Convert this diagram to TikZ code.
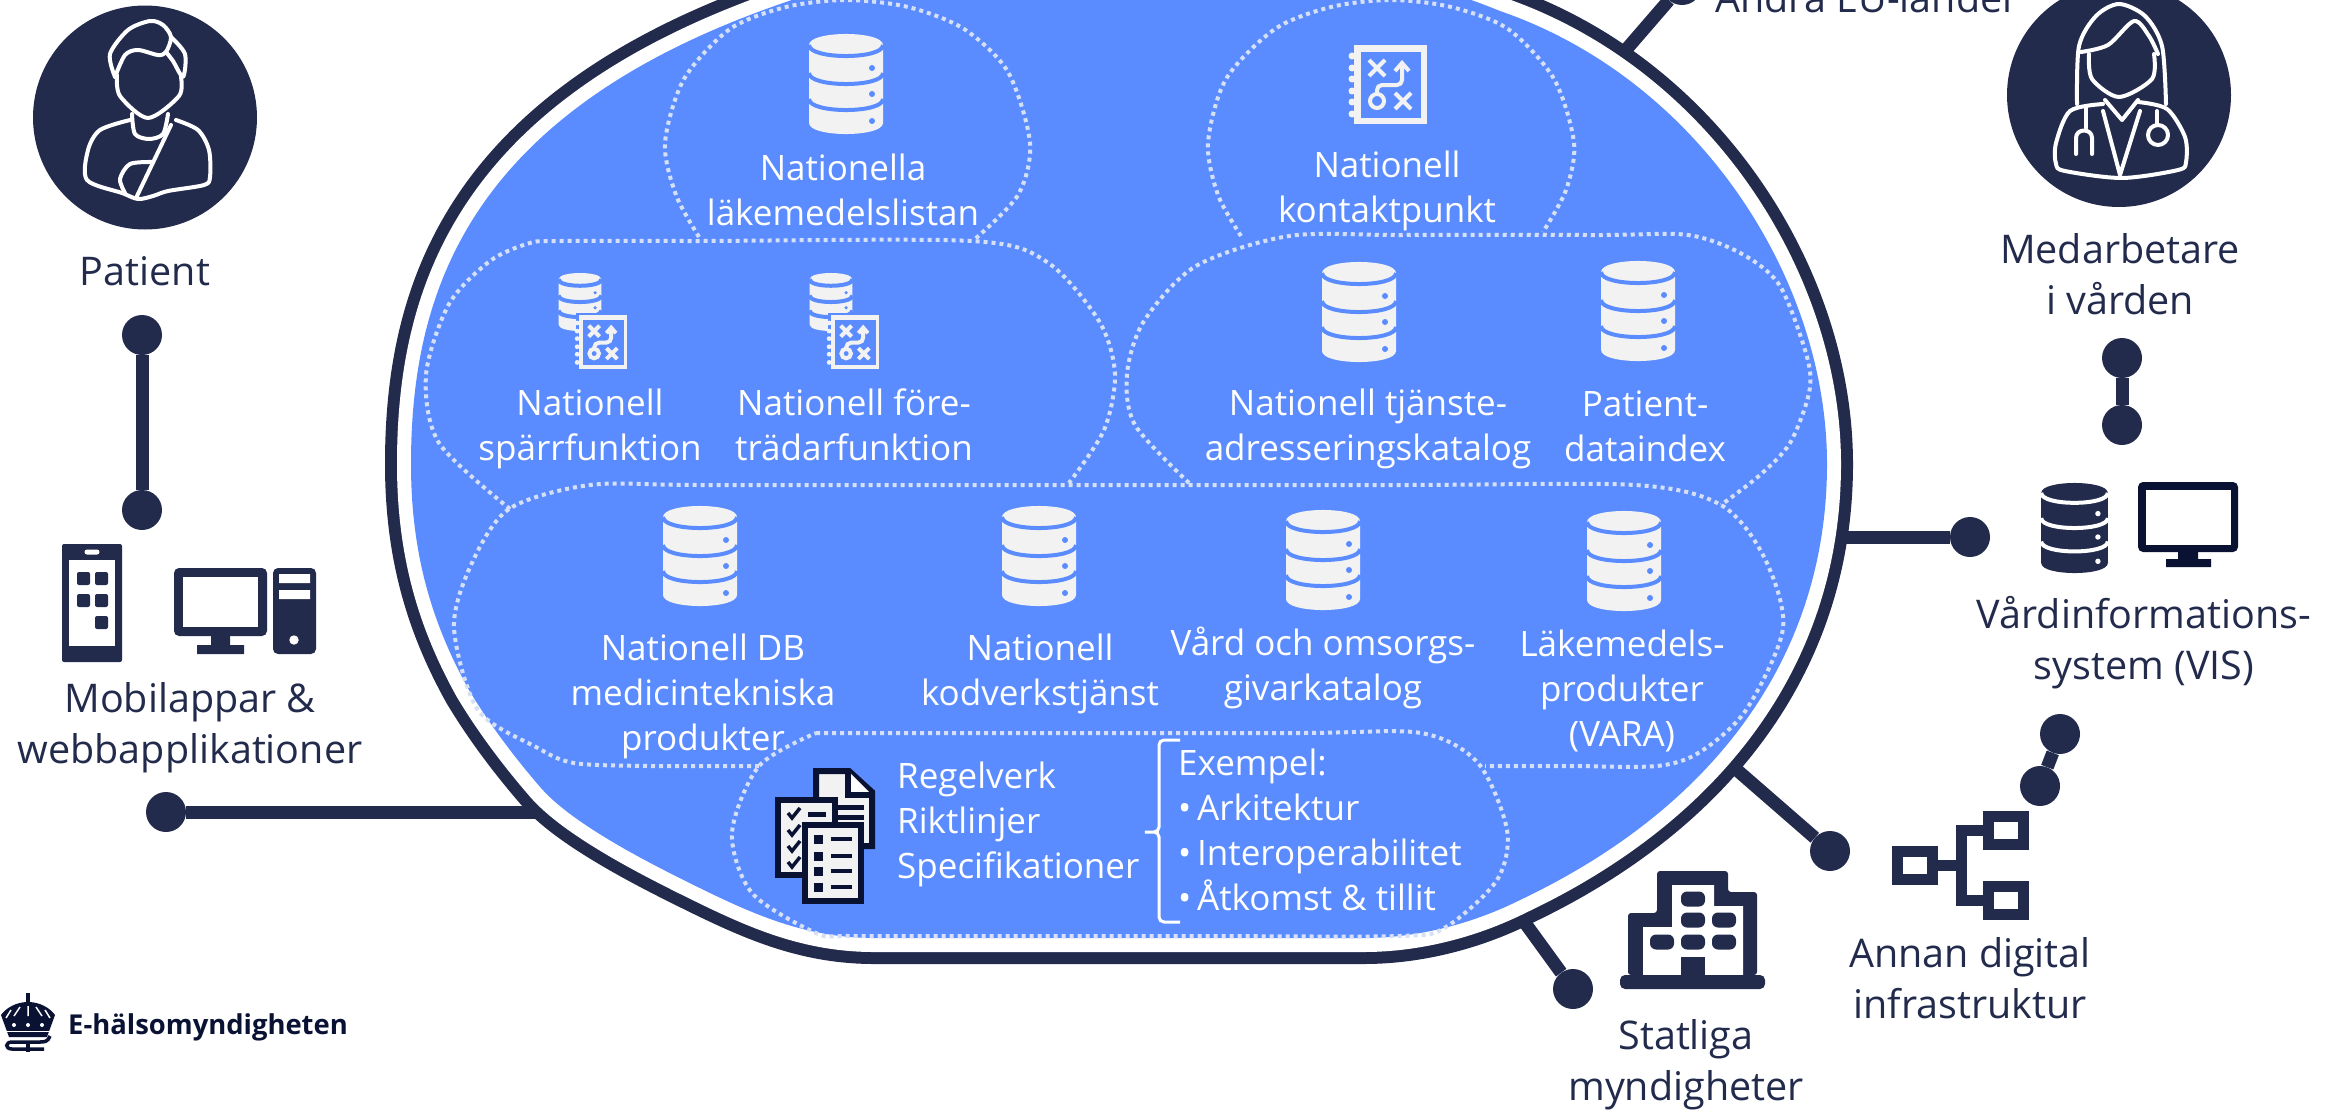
\documentclass[tikz,border=0pt]{standalone}
\usepackage{fontspec}
\setmainfont{Open Sans}
\definecolor{ehmdark}{HTML}{232B4D}
\definecolor{ehmnavy}{HTML}{0A1233}
\definecolor{ehmblue}{HTML}{5B8CFF}
\definecolor{ehmgray}{HTML}{F2F2F2}
\definecolor{ehmdots}{HTML}{D5E0F5}
\newcommand{\blobpath}{(411,464) .. controls (411,290) and (470,110) .. (786,2)
	.. controls (900,-37) and (1050,-60) .. (1118,-60)
	.. controls (1250,-60) and (1400,-30) .. (1500,11)
	.. controls (1700,80) and (1827,280) .. (1827,464)
	.. controls (1827,660) and (1710,810) .. (1520,900)
	.. controls (1470,925) and (1415,938) .. (1364,938)
	-- (874,938) .. controls (810,938) and (760,917) .. (710,893)
	.. controls (665,871) and (576,828) .. (541,788)
	.. controls (515,758) and (490,725) .. (469,690)
	.. controls (430,620) and (411,550) .. (411,464) -- cycle}
\tikzset{
	dot/.style={circle,fill=ehmdark,minimum size=40pt,inner sep=0pt},
	link/.style={draw=ehmdark,line width=13pt},
	outerlabel/.style={text=ehmdark,align=center,font=\fontsize{39.5}{51}\selectfont,inner sep=0pt},
	innerlabel/.style={text=white,align=center,font=\fontsize{35}{45}\selectfont,inner sep=0pt},
	iconline/.style={draw=white,line width=4pt,line join=round,line cap=round},
	lobe/.style={draw=ehmdots,line width=4pt,dash pattern=on 4pt off 4pt},
	hbox/.style={draw=ehmdark,line width=11pt,fill=white,minimum width=35pt,minimum height=28pt,inner sep=0pt},
	pics/dbicon/.style 2 args={code={
		\fill[#1] (-37,-39) .. controls (-37,-53.7) and (37,-53.7) .. (37,-39) -- (37,39)
			.. controls (37,53.7) and (-37,53.7) .. (-37,39) -- cycle;
		\foreach \c/\d in {-39/-16,-11/10,15/37} {
			\draw[#2,line width=4pt] (-37,\c) .. controls (-37,\c+14.7) and (37,\c+14.7) .. (37,\c);
			\fill[#2] (26,\d) circle (3);
		}
	}},
	pics/mapicon/.style={code={
		\draw[ehmblue,line width=3pt,fill=ehmgray] (-38,-41) rectangle (38,41);
		\fill[ehmgray] (-36,-39) rectangle (36,39);
		\foreach \y in {-28,-16,-5,7,18,30}
			\fill[ehmgray] (-38,\y) circle (3.5);
		\fill[ehmblue] (-29,-32) rectangle (31,34);
		\draw[ehmgray,line width=4pt] (-21,-24) -- (-5,-8) (-21,-8) -- (-5,-24);
		\draw[ehmgray,line width=4pt] (5,9) -- (21,25) (5,25) -- (21,9);
		\draw[ehmgray,line width=4pt] (-13,17) circle (7);
		\draw[ehmgray,line width=4pt,rounded corners=5pt] (-13,10) -- (-13,1) -- (12,1) -- (12,-21);
		\draw[ehmgray,line width=4pt] (5,-13) -- (12,-21) -- (19,-13);
	}}
}

\begin{document}
\begin{tikzpicture}[x=1pt,y=-1pt]
	\clip (0,0) rectangle (2344,1111);

	\coordinate (ringleft) at (570,812);
	\coordinate (ringright) at (1820,537);
	\coordinate (ringstat) at (1512,905);
	\coordinate (ringannan) at (1722,757);
	\coordinate (ringeu) at (1612,66);
	\node[dot] (dotleft) at (166,812) {};
	\node[dot] (dotright) at (1970,537) {};
	\node[dot] (dotstat) at (1573,989) {};
	\node[dot] (dotannan) at (1830,851) {};
	\node[dot] (doteu) at (1682,-15) {};
	\draw[link] (dotleft) -- (ringleft);
	\draw[link] (dotright) -- (ringright);
	\draw[link] (dotstat) -- (ringstat);
	\draw[link] (dotannan) -- (ringannan);
	\draw[link] (doteu) -- (ringeu);

	\draw[ehmdark,line width=52pt] \blobpath;
	\draw[white,line width=28pt] \blobpath;
	\fill[ehmblue] \blobpath;

	\draw[lobe] plot[smooth] coordinates {(699,237) (676,195) (665,143) (684,79) (730,29) (786,7) (846,0) (908,7) (964,29) (1008,72) (1030,143) (1018,195) (975,239)};
	\draw[lobe] plot[smooth] coordinates {(1241,236) (1218,195) (1208,143) (1226,79) (1275,29) (1331,7) (1391,0) (1451,7) (1508,29) (1554,79) (1574,143) (1566,190) (1543,232)};
	\draw[lobe] plot[smooth] coordinates {(510,509) (439,443) (426,375) (449,304) (490,261) (530,243) (561,241) (700,241) (972,241) (1047,262) (1099,321) (1115,374) (1104,430) (1069,483)};
	\draw[lobe] plot[smooth] coordinates {(1189,483) (1135,425) (1127,374) (1144,321) (1196,266) (1289,236) (1400,235) (1600,235) (1688,235) (1742,254) (1780,286) (1807,357) (1809,393) (1790,443) (1760,475) (1721,505)};
	\draw[lobe] plot[smooth] coordinates {(759,766) (650,766) (574,763) (536,747) (478,710) (454,628) (471,565) (509,509) (590,485) (700,485) (1000,485) (1400,485) (1635,485) (1721,505) (1764,557) (1783,628) (1746,710) (1700,752) (1657,766) (1570,766) (1485,766)};
	\draw[lobe] plot[smooth] coordinates {(816,733) (1000,733) (1300,733) (1421,733) (1478,763) (1507,830) (1497,880) (1446,927) (1400,936) (1200,936) (1000,936) (850,936) (816,933) (752,893) (732,833) (759,766) (816,733)};

	\pic at (846,84) {dbicon={ehmgray}{ehmblue}};
	\pic at (1359,312) {dbicon={ehmgray}{ehmblue}};
	\pic at (1638,311) {dbicon={ehmgray}{ehmblue}};
	\pic at (700,556) {dbicon={ehmgray}{ehmblue}};
	\pic at (1039,556) {dbicon={ehmgray}{ehmblue}};
	\pic at (1323,560) {dbicon={ehmgray}{ehmblue}};
	\pic at (1624,561) {dbicon={ehmgray}{ehmblue}};
	\pic[scale=0.58] at (580,302) {dbicon={ehmgray}{ehmblue}};
	\pic[scale=0.58] at (831,302) {dbicon={ehmgray}{ehmblue}};
	\pic at (1390,84) {mapicon};
	\pic[scale=0.68] at (603,342) {mapicon};
	\pic[scale=0.68] at (855,342) {mapicon};
	\pic[scale=0.9] at (2074.5,528) {dbicon={ehmdark}{white}};

	\node[innerlabel] (listan) at (843,190) {Nationella\\läkemedelslistan};
	\node[innerlabel] (kontakt) at (1387,191) {Nationell\\kontaktpunkt};
	\node[innerlabel] (sparr) at (590,429) {Nationell\\spärrfunktion};
	\node[innerlabel] (fore) at (854,425) {Nationell före-\\trädarfunktion};
	\node[innerlabel] (tjanst) at (1368,429) {Nationell tjänste-\\adresseringskatalog};
	\node[innerlabel] (index) at (1645,426) {Patient-\\dataindex};
	\node[innerlabel] (medtek) at (703,696) {Nationell DB\\medicintekniska\\produkter};
	\node[innerlabel] (kodverk) at (1040,674) {Nationell\\kodverkstjänst};
	\node[innerlabel] (vard) at (1323,668) {Vård och omsorgs-\\givarkatalog};
	\node[innerlabel] (vara) at (1622,691) {Läkemedels-\\produkter\\(VARA)};
	\node[innerlabel,align=left,anchor=west] (regler) at (897,824) {Regelverk\\Riktlinjer\\Specifikationer};
	\node[innerlabel,align=left,anchor=west] (exempel) at (1178,830) {Exempel:\\•\,Arkitektur\\•\,Interoperabilitet\\•\,Åtkomst \& tillit};
	\draw[white,line width=3pt,rounded corners=5pt] (1180,740) -- (1159,740) -- (1159,832) -- (1142,832) -- (1159,832) -- (1159,922) -- (1180,922);

	% dokument
	\draw[ehmnavy,line width=6pt,fill=ehmgray,line join=miter] (816,771) -- (849,771) -- (872,792) -- (872,846) -- (816,846) -- cycle;
	\draw[ehmnavy,line width=6pt,fill=white] (848,771) -- (848,795) -- (872,795);
	\draw[ehmnavy,line width=5pt] (838,807) -- (864,807) (838,817) -- (864,817) (838,826) -- (864,826);
	\draw[ehmnavy,line width=6pt,fill=ehmgray] (778,800) rectangle (835,875);
	\foreach \y in {813,830,846,862}
		\draw[ehmnavy,line width=3.5pt] (788,\y) -- (792,\y+5) -- (800,\y-5);
	\draw[ehmnavy,line width=5pt] (808,814) -- (826,814);
	\draw[ehmnavy,line width=6pt,fill=ehmgray] (805,825) rectangle (861,901);
	\foreach \y in {839,856,871,887} {
		\fill[ehmnavy] (814,\y-4.5) rectangle (823,\y+4.5);
		\draw[ehmnavy,line width=4.5pt] (831,\y) -- (852,\y);
	}

	% patient
	\fill[ehmdark] (145,117.5) circle (112);
	\draw[iconline] plot[smooth] coordinates {(115,77) (110,54) (128,30) (150,21) (163,25) (171,37) (166,52) (158,55) (138,50) (125,55) (115,77)};
	\draw[iconline] plot[smooth] coordinates {(171,37) (185,54) (183,77) (173,61) (166,52)};
	\draw[iconline] plot[smooth] coordinates {(117,75) (120,96) (148,118) (179,96) (181,77)};
	\draw[iconline] plot[smooth] coordinates {(132,114) (135,134) (149,139) (163,134) (168,114)};
	\draw[iconline] plot[smooth] coordinates {(130,120) (100,130) (88,150) (87,180) (122,193) (138,199) (153,196) (168,191) (204,185) (210,177) (209,150) (198,130) (176,120)};
	\draw[iconline] (171,125) -- (137,196);
	\draw[iconline] plot[smooth] coordinates {(153,162) (130,164) (120,179) (125,193)};
	\node[outerlabel] (patient) at (145,271) {Patient};
	\node[dot] (dotpat) at (142,335) {};
	\node[dot] (dotapp) at (142,510) {};
	\draw[link] (dotpat) -- (dotapp);

	% mobil och dator
	\fill[ehmdark,rounded corners=2pt] (62,544) rectangle (122,662);
	\fill[white] (69,560) rectangle (115,646);
	\fill[white,rounded corners=2.5pt] (84.5,549.5) rectangle (99.5,554.5);
	\foreach \x/\y in {77/572,95/572,77/594,95/594,95/616}
		\fill[ehmdark,rounded corners=2pt] (\x,\y) rectangle ++(13,13);
	\fill[ehmdark,rounded corners=5pt] (174,568) rectangle (267,636);
	\fill[white] (183,577) rectangle (258,627);
	\fill[ehmdark] (211,634) rectangle (230,646) (197,645) rectangle (244,654);
	\fill[ehmdark,rounded corners=5pt] (273,568) rectangle (316,654);
	\fill[white] (279,574) rectangle (310,583) (279,590) rectangle (310,599);
	\fill[white] (294,640) circle (4.7);
	\node[outerlabel] (appar) at (190,728) {Mobilappar \&\\webbapplikationer};

	% medarbetare
	\fill[ehmdark] (2119,95) circle (112);
	\draw[iconline] plot[smooth] coordinates {(2077,104) (2079,46) (2096,16) (2119,4) (2145,16) (2162,46) (2166,104)};
	\draw[iconline] plot[smooth] coordinates {(2081,52) (2108,45) (2134,21) (2149,36) (2158,54)};
	\draw[iconline] plot[smooth] coordinates {(2089,54) (2092,79) (2119,97) (2152,79) (2154,54)};
	\draw[iconline] plot[smooth] coordinates {(2103,104) (2070,111) (2056,143) (2056,164) (2065,171) (2122,178) (2178,170) (2186,162) (2185,137) (2167,109) (2138,102)};
	\draw[iconline] (2105,100) -- (2122,120) -- (2138,100);
	\draw[iconline] (2103,111) -- (2120,175) -- (2140,111);
	\draw[iconline] (2086,107) -- (2086,128);
	\draw[iconline] (2076,154) -- (2076,138) .. controls (2076,128) and (2092,128) .. (2092,138) -- (2092,154);
	\draw[iconline] (2157,111) -- (2157,125);
	\draw[iconline] (2158,135) circle (10);
	\node[outerlabel] (medarb) at (2120,274) {Medarbetare\\i vården};
	\node[dot] (dotmed) at (2122,358) {};
	\node[dot] (dotvis) at (2122,425) {};
	\draw[link] (dotmed) -- (dotvis);

	% vis
	\fill[ehmnavy,rounded corners=5pt] (2138,482) rectangle (2238,552);
	\fill[white] (2146,490) rectangle (2231,545);
	\fill[ehmnavy] (2178,550) rectangle (2198,561) (2166,559) rectangle (2211,567);
	\node[outerlabel] (vis) at (2144,643) {Vårdinformations-\\system (VIS)};
	\node[dot] (dotvisb) at (2060,734) {};
	\node[dot] (dotinfra) at (2040,786) {};
	\draw[link] (dotvisb) -- (dotinfra);

	% annan infrastruktur
	\node[hbox] (hroot) at (1915,865.5) {};
	\node[hbox] (htop) at (2006,830.5) {};
	\node[hbox] (hbottom) at (2006,900) {};
	\draw[ehmdark,line width=11pt] (hroot.east) -- ++(23,0) |- (htop.west);
	\draw[ehmdark,line width=11pt] (hroot.east) -- ++(23,0) |- (hbottom.west);
	\node[outerlabel] (annan) at (1970,978) {Annan digital\\infrastruktur};

	% statliga
	\fill[ehmdark,rounded corners=3pt] (1628,975) -- (1628,913) -- (1657,913) -- (1657,871) -- (1728,871) -- (1728,892) -- (1757,892) -- (1757,975) -- cycle;
	\fill[white] (1643,975) -- (1643,927) -- (1672,927) -- (1672,885) -- (1714,885) -- (1714,906) -- (1743,906) -- (1743,975) -- cycle;
	\foreach \x/\y in {1693/899,1693/920,1724/920,1662/942,1693/942,1724/942}
		\fill[ehmdark,rounded corners=6pt] (\x-12,\y-7.5) rectangle (\x+12,\y+7.5);
	\fill[ehmdark] (1681,957) rectangle (1705,975);
	\fill[ehmdark,rounded corners=5pt] (1620,975) rectangle (1765,989);
	\node[outerlabel] (statlig) at (1686,1065) {Statliga\\myndigheter};

	\node[outerlabel,anchor=base] (andra) at (1867,12) {Andra EU-länder};

	% logo
	\fill[ehmnavy] (28,1002) .. controls (40,1002) and (50,1008) .. (55,1015) -- (47,1037) -- (9,1037) -- (1,1015) .. controls (6,1008) and (16,1002) .. (28,1002) -- cycle;
	\fill[ehmnavy] (26,993) rectangle (30,1004);
	\draw[white,line width=1.5pt] (28,1006) -- (28,1016) (20,1007) -- (14,1016) (36,1007) -- (42,1016) (11,1010) -- (6,1018) (45,1010) -- (50,1018);
	\foreach \x in {14,28,42}
		\fill[white] (\x,1025) circle (2);
	\draw[white,line width=1pt] (4,1031) -- (52,1031);
	\draw[ehmnavy,line width=3.5pt] (50,1036) .. controls (48,1042) and (44,1042) .. (40,1042) -- (12,1042) .. controls (5,1042) and (5,1049) .. (12,1049) -- (44,1049);
	\fill[ehmnavy] (26,1042) rectangle (30,1052);
	\node[text=ehmnavy,font=\bfseries\fontsize{27.4}{30}\selectfont,anchor=west,inner sep=0pt] (logo) at (68,1027) {E-hälsomyndigheten};
\end{tikzpicture}
\end{document}
